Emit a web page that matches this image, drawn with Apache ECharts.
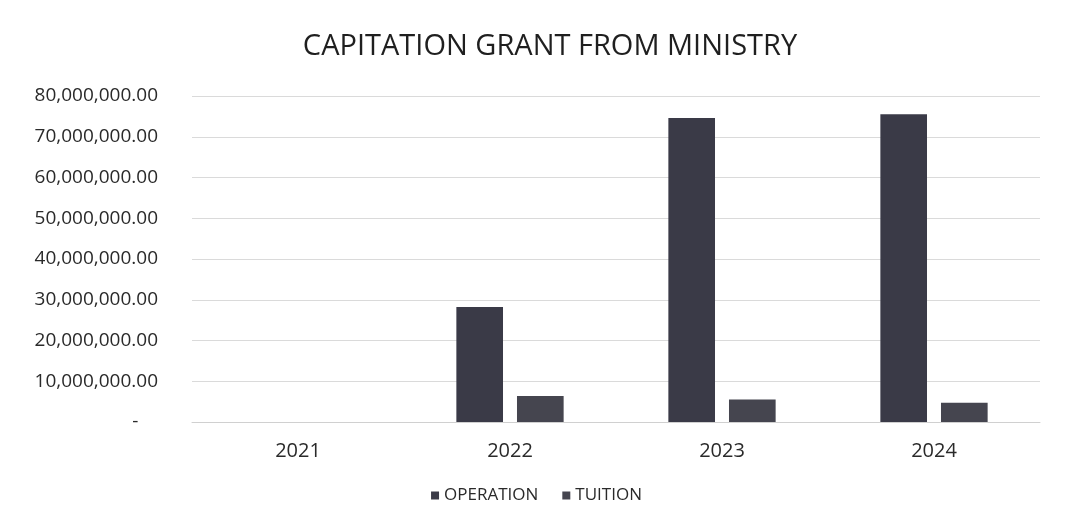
<!DOCTYPE html>
<html>
<head>
<meta charset="utf-8">
<script src="https://cdn.jsdelivr.net/npm/echarts@6/dist/echarts.min.js"></script>
<style>
html,body{margin:0;padding:0;background:#fff;}
#c{width:1073px;height:529px;}
</style>
</head>
<body>
<div id="c"></div>
<script>
const categories = ['2021', '2022', '2023', '2024'];
const operation = [0, 28200000, 74600000, 75500000];
const tuition = [0, 6400000, 5500000, 4700000];
const seriesNames = ['OPERATION', 'TUITION'];
const chartTitle = 'CAPITATION GRANT FROM MINISTRY';

function fmt(v) {
  if (v === 0) return '-    ';
  return v.toLocaleString('en-US', {minimumFractionDigits: 2, maximumFractionDigits: 2});
}

const chart = echarts.init(document.getElementById('c'));
chart.setOption({
  animation: false,
  backgroundColor: '#ffffff',
  title: {
    text: chartTitle,
    left: 545, top: 27, textAlign: 'center',
    textStyle: {fontFamily: 'Open Sans', fontSize: 29, fontWeight: 'normal', color: '#1f1f1f'}
  },
  legend: {
    data: seriesNames,
    bottom: 20, left: 'center',
    icon: 'rect', itemWidth: 8, itemHeight: 8, itemGap: 24,
    textStyle: {fontFamily: 'Open Sans', fontSize: 17, color: '#2a2a2a'}
  },
  grid: {left: 192, right: 33, top: 96, bottom: 107},
  xAxis: {
    type: 'category', data: categories,
    axisLine: {lineStyle: {color: '#d0d0d0'}},
    axisTick: {show: false},
    axisLabel: {fontFamily: 'Open Sans', fontSize: 20, color: '#2a2a2a', margin: 19}
  },
  yAxis: {
    type: 'value', min: 0, max: 80000000, interval: 10000000,
    axisLine: {show: false}, axisTick: {show: false},
    splitLine: {lineStyle: {color: '#dadada'}},
    axisLabel: {formatter: fmt, fontFamily: 'Open Sans', fontSize: 19, color: '#2a2a2a', margin: 34}
  },
  series: [
    {name: seriesNames[0], type: 'bar', data: operation, barWidth: '22%', barGap: '30%',
     itemStyle: {color: '#3a3a47'}},
    {name: seriesNames[1], type: 'bar', data: tuition, barWidth: '22%',
     itemStyle: {color: '#45454f'}}
  ]
});
</script>
</body>
</html>
